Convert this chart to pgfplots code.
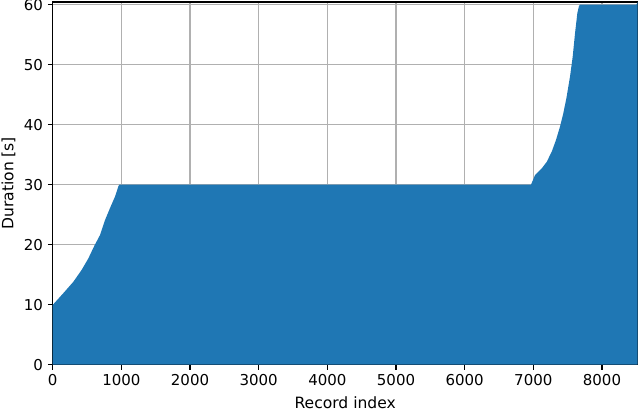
\documentclass[border=0pt]{standalone}
\usepackage{fontspec}
\setmainfont{DejaVu Sans}
\usepackage{pgfplots}
\pgfplotsset{compat=1.18}
\definecolor{mplblue}{HTML}{1F77B4}
\definecolor{gridgray}{HTML}{B0B0B0}
\begin{document}
\begin{tikzpicture}
\begin{axis}[
  set layers=standard,
  scale only axis,
  width=421.2pt, height=261.1pt,
  xmin=0, xmax=8520, ymin=0, ymax=60.45,
  xtick={0,1000,...,8000}, ytick={0,10,...,60},
  scaled x ticks=false,
  xticklabel style={/pgf/number format/.cd, fixed, 1000 sep={}},
  /pgf/number format/assume math mode=true,
  tick label style={font=\fontsize{10.8}{13}\selectfont},
  xlabel={\fontsize{11.2}{13.5}\selectfont Record index},
  ylabel={\fontsize{11.2}{13.5}\selectfont Duration [s]},
  every axis x label/.style={at={([yshift=-27.6pt]axis description cs:0.5,0)}, anchor=center},
  every axis y label/.style={at={([xshift=-31.8pt]axis description cs:0,0.5)}, rotate=90, anchor=center},
  grid=major,
  major grid style={color=gridgray, line width=0.8pt},
  axis line style={line width=0.8pt, on layer=axis foreground},
  tick align=outside, tick pos=left,
  major tick length=3.5pt,
  every tick/.style={black, line width=0.8pt},
]
\addplot[fill=mplblue, draw=none] coordinates {
(0,0) (0,9.95) (154,11.9) (300,13.8) (422,15.8) (519,17.7) (606,19.8)
(689,21.6) (762,24.1) (835,26.1) (907,28) (956,29.7) (970,30)
(6966,30) (7025,31.6) (7122,32.7) (7195,33.8) (7268,35.5) (7330,37.45)
(7389,39.7) (7437,41.9) (7486,44.7) (7534,48) (7573,51.3) (7607,55.2)
(7641,58.6) (7665,59.8) (7680,60) (8500,60) (8520,60.45) (8520,0)
} \closedcycle;
\end{axis}
\pgfresetboundingbox
\useasboundingbox ([shift={(-37.94pt,-33.3pt)}]current axis.south west) rectangle ([shift={(1.66pt,1.44pt)}]current axis.north east);
\end{tikzpicture}
\end{document}
